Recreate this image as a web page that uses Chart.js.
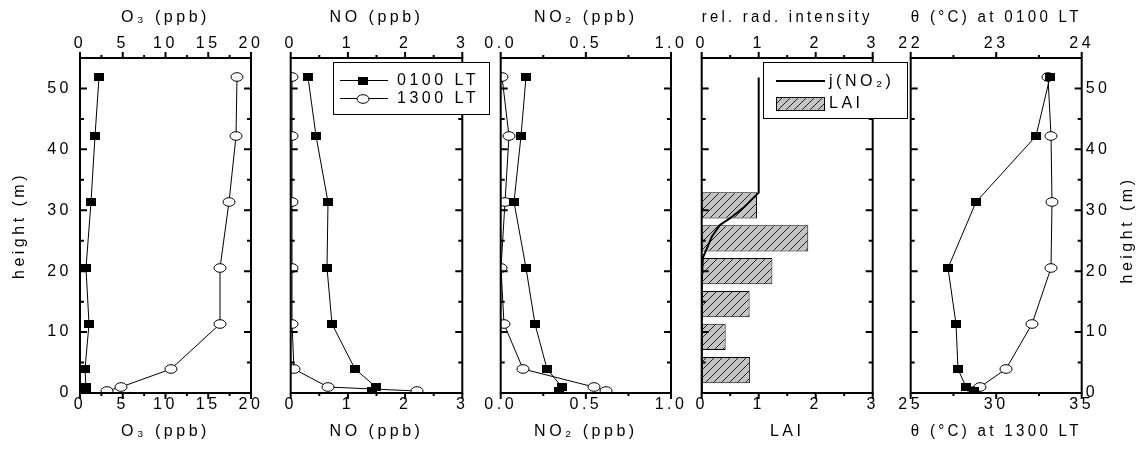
<!DOCTYPE html>
<html>
<head>
<meta charset="utf-8">
<script src="https://cdn.jsdelivr.net/npm/chart.js@4.4.1/dist/chart.umd.min.js"></script>
<style>
  body { margin: 0; background: #fff; overflow: hidden; }
  #wrap { position: relative; width: 1142px; height: 452px; }
  #wrap canvas { position: absolute; left: 0; top: 0; }
</style>
</head>
<body>
<div id="wrap">
  <canvas id="c1" width="1142" height="452"></canvas>
  <canvas id="c2" width="1142" height="452"></canvas>
  <canvas id="c3" width="1142" height="452"></canvas>
  <canvas id="c4" width="1142" height="452"></canvas>
  <canvas id="c5" width="1142" height="452"></canvas>
</div>
<script>
// sampling heights of the tower (m)
const heights = [0.3, 1.0, 4.0, 11.3, 20.5, 31.3, 42.2, 51.8];

// profiles at 0100 LT and 1300 LT
const o3Night = [0.7, 0.65, 0.55, 1.0, 0.7, 1.3, 1.75, 2.2];
const o3Day = [3.2, 4.8, 10.7, 16.4, 16.4, 17.4, 18.2, 18.4];
const noNight = [1.42, 1.49, 1.12, 0.73, 0.63, 0.66, 0.44, 0.31];
const noDay = [2.2, 0.65, 0.05, 0.03, 0.03, 0.02, 0.02, 0.03];
const no2Night = [0.34, 0.36, 0.27, 0.2, 0.15, 0.08, 0.12, 0.15];
const no2Day = [0.62, 0.55, 0.13, 0.02, 0.0, 0.025, 0.05, 0.01];
const thetaNight = [22.74, 22.65, 22.55, 22.53, 22.44, 22.76, 23.47, 23.63];
const thetaDay = [28.7, 29.05, 30.56, 32.08, 33.23, 33.26, 33.19, 33.05];

// leaf area index per canopy layer (layer centre height in m)
const laiLevels = [3.75, 9.2, 14.6, 20.0, 25.4, 30.8];
const laiValues = [0.85, 0.42, 0.84, 1.24, 1.87, 0.97];

// relative j(NO2) through the canopy
const jHeights = [0, 18.0, 22.2, 23.5, 25.7, 27.6, 28.7, 30.4, 32.9, 51.8];
const jValues = [0, 0, 0.02, 0.08, 0.18, 0.32, 0.5, 0.73, 1.0, 1.0];

// tick labels
const heightTicks = [0, 10, 20, 30, 40, 50];
const o3Ticks = [0, 5, 10, 15, 20];
const noTicks = [0, 1, 2, 3];
const no2Ticks = [0, 0.5, 1];
const laiTicks = [0, 1, 2, 3];
const thetaDayTicks = [25, 30, 35];
const thetaNightTicks = [22, 23, 24];

const timeLabels = ['0100 LT', '1300 LT'];
const canopyLabels = ['j(NO₂)', 'LAI'];

const FONT = "'Liberation Sans', Arial, sans-serif";
Chart.defaults.font.family = FONT;
Chart.defaults.font.size = 16;
Chart.defaults.color = '#000';

function markCanvas(w, h, draw) {
  const c = document.createElement('canvas');
  c.width = w;
  c.height = h;
  draw(c.getContext('2d'), w, h);
  return c;
}
const squareMark = markCanvas(10, 8, (g, w, h) => {
  g.fillStyle = '#000';
  g.fillRect(0, 0, w, h);
});
const circleMark = markCanvas(14, 10, (g, w, h) => {
  g.fillStyle = '#fff';
  g.strokeStyle = '#000';
  g.lineWidth = 1;
  g.beginPath();
  g.ellipse(w / 2, h / 2, w / 2 - 1, h / 2 - 0.7, 0, 0, Math.PI * 2);
  g.fill();
  g.stroke();
});
const hatchTile = markCanvas(8, 8, (g, w, h) => {
  g.fillStyle = '#c3c3c3';
  g.fillRect(0, 0, w, h);
  g.strokeStyle = '#222';
  g.lineWidth = 1;
  g.beginPath();
  g.moveTo(0, h); g.lineTo(w, 0);
  g.moveTo(-1, 1); g.lineTo(1, -1);
  g.moveTo(w - 1, h + 1); g.lineTo(w + 1, h - 1);
  g.stroke();
});
const hatch = document.getElementById('c4').getContext('2d').createPattern(hatchTile, 'repeat');

function profile(values, mark, axis) {
  return {
    data: values.map((v, i) => ({ x: v, y: heights[i] })),
    xAxisID: axis || 'x',
    borderColor: '#000',
    borderWidth: 1,
    pointStyle: mark,
    pointRadius: 5,
    tension: 0,
    clip: 0
  };
}

function xAxis(pos, range, ticks, title, fmt) {
  const top = pos === 'top';
  return {
    type: 'linear', position: pos, min: range[0], max: range[1], offset: false,
    grid: { display: false, drawTicks: false },
    border: { display: false },
    afterBuildTicks: s => { s.ticks = ticks.map(v => ({ value: v })); },
    ticks: { padding: top ? 5 : 2, maxRotation: 0, autoSkip: false, callback: fmt || (v => String(v)) },
    title: { display: true, text: title, padding: top ? { top: 8, bottom: 0 } : { top: 0, bottom: 11 } },
    afterFit: s => { s.height = top ? 58 : 59; }
  };
}

function yAxis(pos, labelled, w) {
  return {
    type: 'linear', position: pos, min: 0, max: 55, offset: false,
    grid: { display: false, drawTicks: false },
    border: { display: false },
    afterBuildTicks: s => { s.ticks = heightTicks.map(v => ({ value: v })); },
    ticks: { display: labelled, padding: pos === 'left' ? 8 : 4, autoSkip: false },
    title: { display: labelled && pos === 'left', text: 'height (m)', padding: { top: 10, bottom: 0 } },
    afterFit: s => { s.width = w; }
  };
}

function withMinor(values) {
  const out = values.map(v => [v, true]);
  for (let i = 1; i < values.length; i++) out.push([(values[i - 1] + values[i]) / 2, false]);
  return out;
}

// wide letter spacing as in the original figure
const spacing = {
  id: 'spacing',
  beforeDraw(chart) { chart.ctx.letterSpacing = '3.5px'; }
};

// put markers on whole pixels so the small symbols stay sharp
const snapPoints = {
  id: 'snapPoints',
  afterDatasetsUpdate(chart) {
    chart.getSortedVisibleDatasetMetas().forEach(meta => {
      if (meta.type !== 'line') return;
      meta.data.forEach(p => { p.x = Math.round(p.x); p.y = Math.round(p.y); });
    });
  }
};

// box around the panel, x ticks outside, height ticks inside
const frameTicks = {
  id: 'frameTicks',
  afterDatasetsDraw(chart) {
    const { ctx, chartArea: a } = chart;
    ctx.save();
    ctx.strokeStyle = '#000';
    ctx.lineWidth = 2;
    ctx.strokeRect(a.left, a.top, a.right - a.left, a.bottom - a.top);
    ctx.beginPath();
    [['x', a.bottom, 1], ['x2', a.top, -1]].forEach(([id, edge, dir]) => {
      const s = chart.scales[id];
      withMinor(s.ticks.map(t => t.value)).forEach(([v, major]) => {
        const px = s.getPixelForValue(v);
        ctx.moveTo(px, edge);
        ctx.lineTo(px, edge + dir * (major ? 6 : 3));
      });
    });
    const y = chart.scales.y;
    withMinor(heightTicks).forEach(([v, major]) => {
      const py = y.getPixelForValue(v);
      const len = major ? 7 : 4;
      ctx.moveTo(a.left, py); ctx.lineTo(a.left + len, py);
      ctx.moveTo(a.right, py); ctx.lineTo(a.right - len, py);
    });
    ctx.stroke();
    ctx.restore();
  }
};

const timeLegend = {
  id: 'timeLegend',
  afterDraw(chart) {
    const ctx = chart.ctx;
    ctx.save();
    ctx.fillStyle = '#fff';
    ctx.strokeStyle = '#000';
    ctx.lineWidth = 1;
    ctx.fillRect(333.5, 62.5, 156, 52);
    ctx.strokeRect(333.5, 62.5, 156, 52);
    [squareMark, circleMark].forEach((mark, i) => {
      const yy = 80 + i * 18;
      ctx.beginPath();
      ctx.moveTo(340, yy + 0.5);
      ctx.lineTo(388, yy + 0.5);
      ctx.stroke();
      ctx.drawImage(mark, 363 - mark.width / 2, yy - mark.height / 2 + 1);
      ctx.fillStyle = '#000';
      ctx.font = '16px ' + FONT;
      ctx.textBaseline = 'middle';
      ctx.fillText(timeLabels[i], 397, yy + 1);
    });
    ctx.restore();
  }
};

const canopyLegend = {
  id: 'canopyLegend',
  afterDraw(chart) {
    const ctx = chart.ctx;
    ctx.save();
    ctx.fillStyle = '#fff';
    ctx.strokeStyle = '#000';
    ctx.lineWidth = 1;
    ctx.fillRect(763.5, 62.5, 144, 56);
    ctx.strokeRect(763.5, 62.5, 144, 56);
    ctx.lineWidth = 2;
    ctx.beginPath();
    ctx.moveTo(776, 81);
    ctx.lineTo(825, 81);
    ctx.stroke();
    ctx.lineWidth = 1;
    ctx.fillStyle = hatch;
    ctx.fillRect(776.5, 97.5, 48, 13);
    ctx.strokeRect(776.5, 97.5, 48, 13);
    ctx.fillStyle = '#000';
    ctx.font = '16px ' + FONT;
    ctx.textBaseline = 'middle';
    ctx.fillText(canopyLabels[0], 829, 82);
    ctx.fillText(canopyLabels[1], 829, 104);
    ctx.restore();
  }
};

// title of the right-hand height axis, read bottom to top
const rightTitle = {
  id: 'rightTitle',
  afterDraw(chart) {
    const ctx = chart.ctx;
    ctx.save();
    ctx.translate(1128, 230);
    ctx.rotate(-Math.PI / 2);
    ctx.fillStyle = '#000';
    ctx.font = '16px ' + FONT;
    ctx.textAlign = 'center';
    ctx.textBaseline = 'middle';
    ctx.fillText('height (m)', 0, 0);
    ctx.restore();
  }
};

function baseOptions(pad, scales) {
  return {
    responsive: false,
    animation: false,
    devicePixelRatio: 1,
    events: [],
    indexAxis: 'y',
    layout: { padding: { left: pad[0], right: pad[1], top: 0, bottom: 0 } },
    plugins: { legend: { display: false }, tooltip: { enabled: false } },
    scales: scales
  };
}

new Chart(document.getElementById('c1'), {
  type: 'line',
  data: { datasets: [profile(o3Night, squareMark), profile(o3Day, circleMark)] },
  options: baseOptions([0, 891], {
    x: xAxis('bottom', [0, 20], o3Ticks, 'O₃ (ppb)'),
    x2: xAxis('top', [0, 20], o3Ticks, 'O₃ (ppb)'),
    y: yAxis('left', true, 80)
  }),
  plugins: [spacing, snapPoints, frameTicks]
});

new Chart(document.getElementById('c2'), {
  type: 'line',
  data: { datasets: [profile(noNight, squareMark), profile(noDay, circleMark)] },
  options: baseOptions([290.7, 679.7], {
    x: xAxis('bottom', [0, 3], noTicks, 'NO (ppb)'),
    x2: xAxis('top', [0, 3], noTicks, 'NO (ppb)'),
    y: yAxis('left', false, 0)
  }),
  plugins: [spacing, snapPoints, frameTicks, timeLegend]
});

const oneDecimal = v => v.toFixed(1);
new Chart(document.getElementById('c3'), {
  type: 'line',
  data: { datasets: [profile(no2Night, squareMark), profile(no2Day, circleMark)] },
  options: baseOptions([500.7, 471], {
    x: xAxis('bottom', [0, 1], no2Ticks, 'NO₂ (ppb)', oneDecimal),
    x2: xAxis('top', [0, 1], no2Ticks, 'NO₂ (ppb)', oneDecimal),
    y: yAxis('left', false, 0)
  }),
  plugins: [spacing, snapPoints, frameTicks]
});

new Chart(document.getElementById('c4'), {
  type: 'bar',
  data: {
    datasets: [{
      type: 'line',
      data: jValues.map((v, i) => ({ x: v, y: jHeights[i] })),
      xAxisID: 'x2',
      borderColor: '#000',
      borderWidth: 2,
      pointRadius: 0,
      tension: 0,
      clip: 0
    }, {
      type: 'bar',
      data: laiValues.map((v, i) => ({ x: v, y: laiLevels[i] })),
      backgroundColor: hatch,
      borderColor: '#000',
      borderWidth: 1,
      borderSkipped: false,
      barPercentage: 0.8,
      categoryPercentage: 1
    }]
  },
  options: baseOptions([701.7, 269.3], {
    x: xAxis('bottom', [0, 3], laiTicks, 'LAI'),
    x2: xAxis('top', [0, 3], laiTicks, 'rel. rad. intensity'),
    y: yAxis('left', false, 0)
  }),
  plugins: [spacing, frameTicks, canopyLegend]
});

new Chart(document.getElementById('c5'), {
  type: 'line',
  data: { datasets: [profile(thetaNight, squareMark, 'x2'), profile(thetaDay, circleMark)] },
  options: baseOptions([910.7, 0], {
    x: xAxis('bottom', [25, 35], thetaDayTicks, 'θ (°C) at 1300 LT'),
    x2: xAxis('top', [22, 24], thetaNightTicks, 'θ (°C) at 0100 LT'),
    y: yAxis('right', true, 60.3)
  }),
  plugins: [spacing, snapPoints, frameTicks, rightTitle]
});
</script>
</body>
</html>
